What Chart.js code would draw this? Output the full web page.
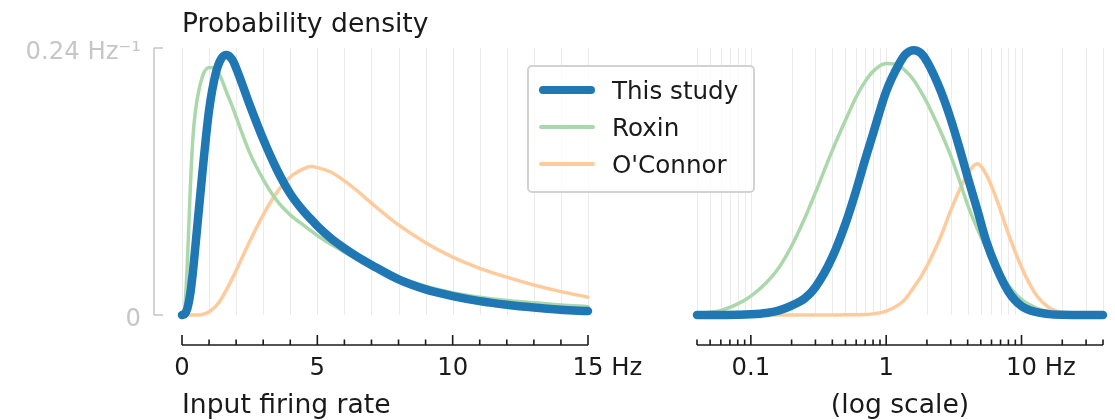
<!DOCTYPE html>
<html>
<head>
<meta charset="utf-8">
<script src="https://cdn.jsdelivr.net/npm/chart.js@4.4.1/dist/chart.umd.min.js"></script>
<style>
  body { margin: 0; background: #fff; font-family: "DejaVu Sans", sans-serif; }
  #wrap { position: relative; width: 1115px; height: 420px; overflow: hidden; }
  #wrap canvas { position: absolute; top: 0; }
  #linChart { left: 0; }
  #logChart { left: 650px; }
  #legend {
    position: absolute; left: 527px; top: 65px; width: 224px; height: 124px;
    border: 2px solid #d2d2d2; border-radius: 5px; background: rgba(255, 255, 255, 0.8);
  }
  .row { position: absolute; left: 0; height: 36px; display: flex; align-items: center; }
  .swatch { margin-left: 10px; width: 56px; border-radius: 5px; }
  .lbl { margin-left: 17px; font-size: 24.6px; color: #1a1a1a; white-space: nowrap; }
</style>
</head>
<body>
<div id="wrap">
  <canvas id="linChart" width="650" height="420"></canvas>
  <canvas id="logChart" width="465" height="420"></canvas>
  <div id="legend"></div>
</div>
<script>
// input rate (Hz) for the left, linear panel
var rateLin = [0, 0.1, 0.2, 0.3, 0.4, 0.5, 0.75, 1, 1.25, 1.45, 1.65, 1.85, 2, 2.5, 3, 3.5, 4, 4.5, 4.75, 5, 5.5, 6, 6.5, 7, 8, 9, 10, 11, 12, 13, 14, 15];
var studyLin = [0, 0.001, 0.006, 0.018, 0.038, 0.063, 0.127, 0.184, 0.2175, 0.2305, 0.2337, 0.2297, 0.222, 0.189, 0.158, 0.131, 0.109, 0.093, 0.0865, 0.080, 0.069, 0.060, 0.052, 0.045, 0.032, 0.023, 0.017, 0.0125, 0.0092, 0.0067, 0.0048, 0.0035];
var roxinLin = [0, 0.006, 0.048, 0.110, 0.158, 0.184, 0.214, 0.2225, 0.2215, 0.2125, 0.200, 0.188, 0.178, 0.146, 0.122, 0.103, 0.090, 0.0805, 0.076, 0.0715, 0.0635, 0.0565, 0.050, 0.044, 0.034, 0.026, 0.020, 0.016, 0.013, 0.011, 0.009, 0.0075];
var oconnorLin = [0, 0, 0, 0, 0, 0, 0.0005, 0.003, 0.008, 0.0145, 0.023, 0.0325, 0.040, 0.066, 0.090, 0.110, 0.124, 0.1315, 0.1335, 0.1325, 0.1285, 0.1205, 0.111, 0.1005, 0.081, 0.065, 0.052, 0.042, 0.034, 0.027, 0.021, 0.016];

// input rate (Hz) for the right, log panel
var rateLog = [0.04, 0.06, 0.08, 0.1, 0.13, 0.16, 0.2, 0.25, 0.3, 0.4, 0.5, 0.6, 0.7, 0.8, 1, 1.25, 1.4, 1.6, 1.8, 2, 2.5, 3, 3.5, 4, 4.7, 5.5, 6.5, 8, 10, 13, 16, 20, 30, 40];
var studyLog = [0, 0.00003, 0.0002, 0.0006, 0.0018, 0.004, 0.0085, 0.015, 0.025, 0.052, 0.082, 0.112, 0.140, 0.163, 0.201, 0.226, 0.2347, 0.238, 0.2355, 0.228, 0.203, 0.176, 0.149, 0.124, 0.095, 0.066, 0.043, 0.021, 0.008, 0.0025, 0.0008, 0.0002, 0, 0];
var roxinLog = [0.001, 0.004, 0.010, 0.017, 0.029, 0.042, 0.062, 0.087, 0.110, 0.148, 0.175, 0.196, 0.210, 0.219, 0.226, 0.224, 0.219, 0.211, 0.201, 0.191, 0.166, 0.143, 0.120, 0.099, 0.078, 0.060, 0.044, 0.027, 0.014, 0.006, 0.003, 0.0015, 0.0003, 0];
var oconnorLog = [0, 0, 0, 0, 0, 0, 0, 0, 0, 0, 0.0002, 0.0003, 0.0005, 0.001, 0.0035, 0.0095, 0.015, 0.025, 0.034, 0.044, 0.069, 0.094, 0.113, 0.127, 0.136, 0.126, 0.105, 0.073, 0.043, 0.017, 0.0065, 0.002, 0, 0];

var seriesNames = ['This study', 'Roxin', "O'Connor"];
var seriesColors = ['#1f77b4', '#abd8aa', '#ffcb9d'];
var seriesWidths = [8.5, 3.5, 3.5];

var linMajor = [0, 5, 10, 15];
var linMajorLabels = ['0', '5', '10', '15'];
var linMinor = [0, 1, 2, 3, 4, 5, 6, 7, 8, 9, 10, 11, 12, 13, 14, 15];
var logMajor = [0.1, 1, 10];
var logMajorLabels = ['0.1', '1', '10'];
var logMinor = [0.04, 0.05, 0.06, 0.07, 0.08, 0.09, 0.1, 0.2, 0.3, 0.4, 0.5, 0.6, 0.7, 0.8, 0.9, 1, 2, 3, 4, 5, 6, 7, 8, 9, 10, 20, 30, 40];
var yTicks = [0, 0.24];
var yTickLabels = ['0', '0.24 Hz\u207B\u00B9'];

// grid, offset bottom spine with inward ticks, labels
var offsetAxes = {
    id: 'offsetAxes',
    beforeDatasetsDraw: function (chart, args, o) {
        var ctx = chart.ctx;
        var xs = chart.scales.x;
        var area = chart.chartArea;
        ctx.save();
        ctx.strokeStyle = '#ebebeb';
        ctx.lineWidth = 1;
        o.minor.forEach(function (v) {
            var px = Math.round(xs.getPixelForValue(v)) + 0.5;
            ctx.beginPath();
            ctx.moveTo(px, area.top);
            ctx.lineTo(px, area.bottom);
            ctx.stroke();
        });
        ctx.restore();
    },
    afterDraw: function (chart, args, o) {
        var ctx = chart.ctx;
        var xs = chart.scales.x;
        var ys = chart.scales.y;
        var area = chart.chartArea;
        var spineY = area.bottom + 30;
        ctx.save();
        ctx.strokeStyle = '#1a1a1a';
        ctx.lineWidth = 1.6;
        ctx.beginPath();
        ctx.moveTo(area.left, spineY);
        ctx.lineTo(area.right, spineY);
        ctx.stroke();
        o.minor.forEach(function (v) {
            var px = xs.getPixelForValue(v);
            var len = o.major.indexOf(v) >= 0 ? 10 : 5.5;
            ctx.beginPath();
            ctx.moveTo(px, spineY);
            ctx.lineTo(px, spineY - len);
            ctx.stroke();
        });

        ctx.fillStyle = '#1a1a1a';
        ctx.font = '24.3px "DejaVu Sans"';
        ctx.textBaseline = 'alphabetic';
        o.major.forEach(function (v, i) {
            var px = xs.getPixelForValue(v);
            var txt = o.labels[i];
            ctx.textAlign = 'center';
            ctx.fillText(txt, px, spineY + 30);
            if (v === o.unitAt) {
                ctx.textAlign = 'left';
                ctx.fillText(' Hz', px + ctx.measureText(txt).width / 2, spineY + 30);
            }
        });

        ctx.font = '26.6px "DejaVu Sans"';
        if (o.titleAlign === 'left') {
            ctx.textAlign = 'left';
            ctx.fillText(o.title, area.left, spineY + 68);
        } else {
            ctx.textAlign = 'center';
            ctx.fillText(o.title, (area.left + area.right) / 2, spineY + 68);
        }

        if (o.yAxis) {
            var top = ys.getPixelForValue(yTicks[yTicks.length - 1]);
            var bot = ys.getPixelForValue(yTicks[0]);
            var sx = area.left - 28;
            ctx.strokeStyle = '#c8c8c8';
            ctx.beginPath();
            ctx.moveTo(sx, top);
            ctx.lineTo(sx, bot);
            ctx.stroke();
            ctx.fillStyle = '#c6c6c6';
            ctx.font = '24.3px "DejaVu Sans"';
            ctx.textAlign = 'right';
            yTicks.forEach(function (v, i) {
                var py = ys.getPixelForValue(v);
                ctx.beginPath();
                ctx.moveTo(sx, py);
                ctx.lineTo(sx + 9, py);
                ctx.stroke();
                ctx.fillText(yTickLabels[i], sx - 13, py + 10.5);
            });
            ctx.fillStyle = '#1a1a1a';
            ctx.font = '26.6px "DejaVu Sans"';
            ctx.textAlign = 'left';
            ctx.fillText('Probability density', area.left, 32);
        }
        ctx.restore();
    }
};

function makeDatasets(xs, series) {
    return series.map(function (ys, k) {
        return {
            label: seriesNames[k],
            data: xs.map(function (x, i) { return { x: x, y: ys[i] }; }),
            borderColor: seriesColors[k],
            borderWidth: seriesWidths[k],
            borderCapStyle: 'round',
            borderJoinStyle: 'round',
            pointRadius: 0,
            cubicInterpolationMode: 'monotone',
            clip: false
        };
    });
}

function makeChart(id, xs, series, xScale, pad, axisOpts) {
    return new Chart(document.getElementById(id), {
        type: 'line',
        data: { datasets: makeDatasets(xs, series) },
        options: {
            responsive: false,
            animation: false,
            layout: { padding: pad },
            scales: {
                x: xScale,
                y: { type: 'linear', min: 0, max: 0.24, display: false }
            },
            plugins: {
                legend: { display: false },
                tooltip: { enabled: false },
                offsetAxes: axisOpts
            }
        },
        plugins: [offsetAxes]
    });
}

makeChart('linChart', rateLin, [studyLin, roxinLin, oconnorLin],
    { type: 'linear', min: 0, max: 15, display: false },
    { left: 182, right: 62, top: 48, bottom: 105 },
    { minor: linMinor, major: linMajor, labels: linMajorLabels, unitAt: 15,
      title: 'Input firing rate', titleAlign: 'left', yAxis: true });

makeChart('logChart', rateLog, [studyLog, roxinLog, oconnorLog],
    { type: 'logarithmic', min: 0.04, max: 40, display: false },
    { left: 47, right: 12, top: 48, bottom: 105 },
    { minor: logMinor, major: logMajor, labels: logMajorLabels, unitAt: 10,
      title: '(log scale)', titleAlign: 'center', yAxis: false });

// legend box between the panels
var legend = document.getElementById('legend');
seriesNames.forEach(function (name, k) {
    var row = document.createElement('div');
    row.className = 'row';
    row.style.top = (5 + k * 37) + 'px';
    var sw = document.createElement('div');
    sw.className = 'swatch';
    sw.style.height = seriesWidths[k] + 'px';
    sw.style.background = seriesColors[k];
    var lbl = document.createElement('span');
    lbl.className = 'lbl';
    lbl.textContent = name;
    row.appendChild(sw);
    row.appendChild(lbl);
    legend.appendChild(row);
});
</script>
</body>
</html>
